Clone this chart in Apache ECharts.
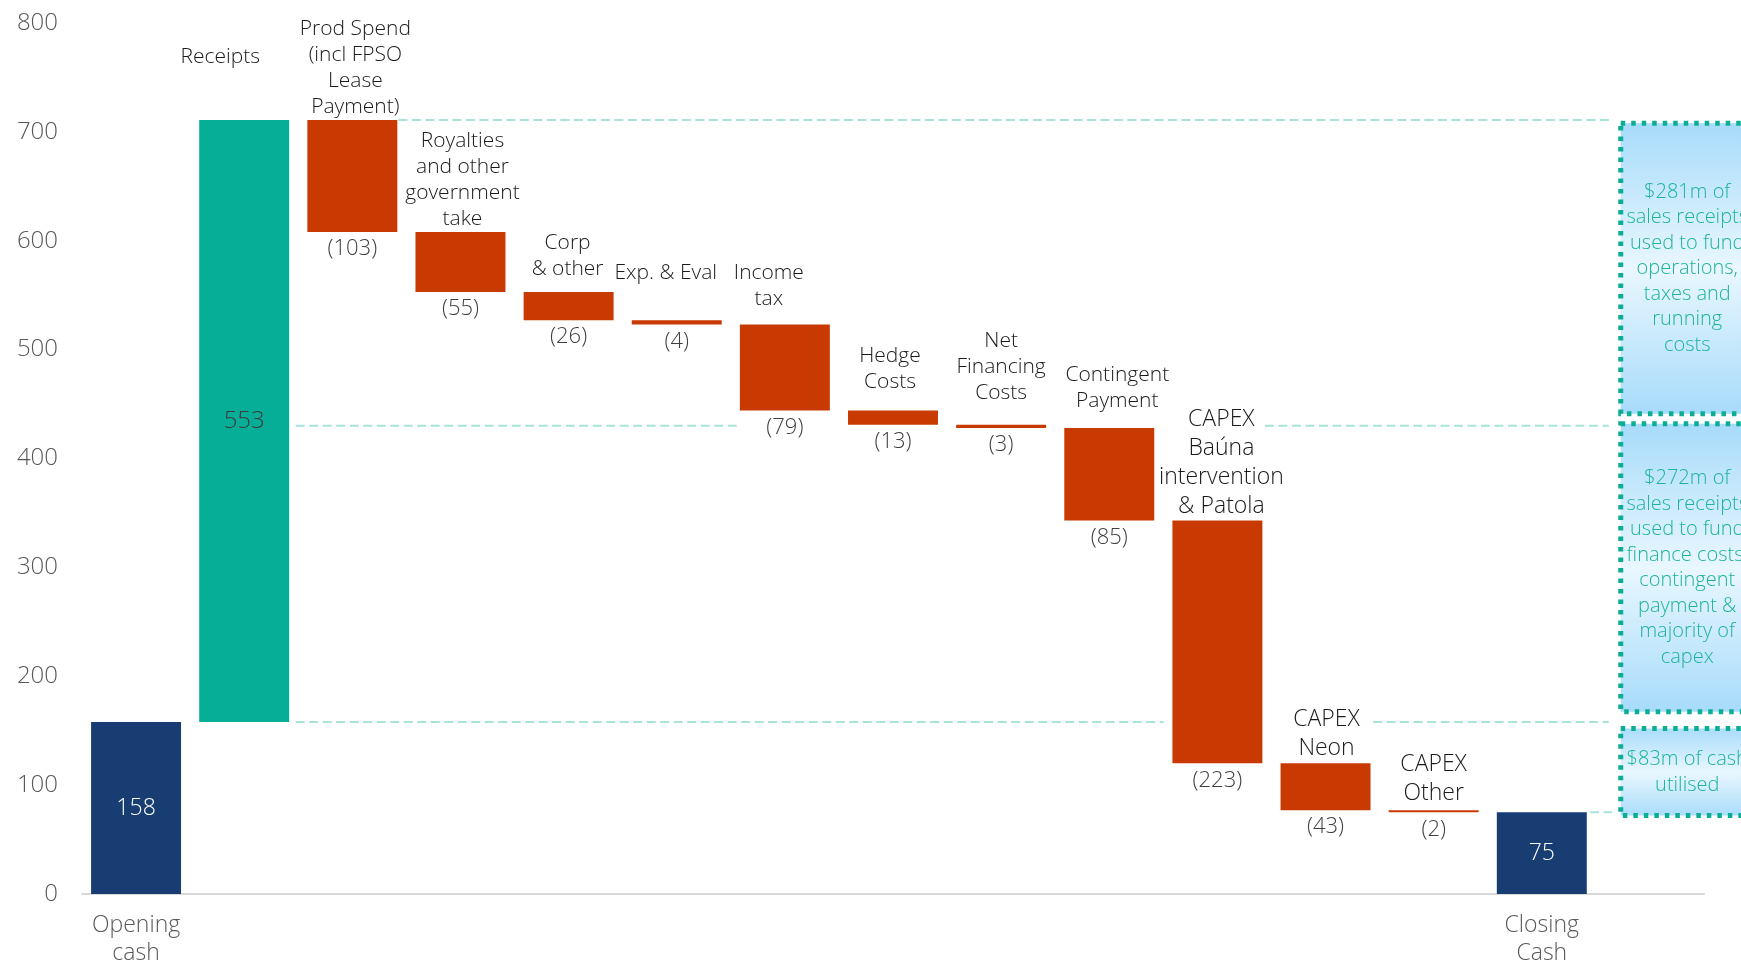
<!DOCTYPE html>
<html>
<head>
<meta charset="utf-8">
<script src="https://cdn.jsdelivr.net/npm/echarts@6/dist/echarts.min.js"></script>
<style>
  html, body { margin: 0; padding: 0; background: #fff; }
  #chart { width: 1741px; height: 967px; }
</style>
</head>
<body>
<div id="chart"></div>
<script>
// waterfall data ($m)
var categories = [
  "Opening\ncash", "Receipts", "Prod Spend\n(incl FPSO\nLease\nPayment)",
  "Royalties\nand other\ngovernment\ntake", "Corp\n& other", "Exp. & Eval",
  "Income\ntax", "Hedge\nCosts", "Net\nFinancing\nCosts", "Contingent\nPayment",
  "CAPEX\nBaúna\nintervention\n& Patola", "CAPEX\nNeon", "CAPEX\nOther", "Closing\nCash"
];
var values = [158, 553, -103, -55, -26, -4, -79, -13, -3, -85, -223, -43, -2, 75];
var totalIdx = [0, 13];

// bracket levels and the notes beside them
var levels = [711, 430, 158, 75];
var boxRanges = [[708, 441], [432, 167.5], [152, 72]];
var boxTexts = [
  "$281m of\nsales receipts\nused to fund\noperations,\ntaxes and\nrunning\ncosts",
  "$272m of\nsales receipts\nused to fund\nfinance costs,\ncontingent\npayment &\nmajority of\ncapex",
  "$83m of cash\nutilised"
];
var yTicks = [0, 100, 200, 300, 400, 500, 600, 700, 800];

// label tweaks (px)
var nameGap = [0, 50, 0, 0, 10, 34, 13, 16, 19, 14, 0, 0, 2, 0];
var nameShift = [0, -24, 3, 2, -1, -11, -16, -3, 0, 8, 4, 1, 0, 0];

var NAVY = "#173d73", TEAL = "#06ae97", RED = "#c93a02";
var FONT = "'Open Sans', sans-serif";
var WEIGHT = 350;

var base = [], size = [], running = 0;
values.forEach(function (v, i) {
  if (totalIdx.indexOf(i) >= 0) {
    base.push(0); size.push(v); running = v;
  } else if (v >= 0) {
    base.push(running); size.push(v); running += v;
  } else {
    running += v; base.push(running); size.push(-v);
  }
});

var axisCats = categories.concat([""]);

var mainData = size.map(function (s, i) {
  var isTotal = totalIdx.indexOf(i) >= 0;
  var v = values[i];
  var color = isTotal ? NAVY : (v >= 0 ? TEAL : RED);
  var label;
  if (isTotal) {
    label = { show: true, position: "inside", color: "#fff", fontSize: 23 };
  } else if (v >= 0) {
    label = { show: true, position: "inside", color: "#3a3a3a", fontSize: 24 };
  } else {
    label = { show: true, position: "bottom", distance: 4, color: "#404040", fontSize: 22, lineHeight: 26 };
  }
  return { value: s, itemStyle: { color: color }, label: label };
});

var topData = size.map(function (s, i) {
  var big = categories[i].indexOf("CAPEX") === 0;
  return {
    value: 0,
    label: {
      distance: nameGap[i],
      offset: [nameShift[i], 0],
      fontSize: big ? 23 : 21,
      lineHeight: big ? 29 : 26
    }
  };
});

// dashed guide segments: [level, xFrom, xTo] on the hidden value axis (category i spans i..i+1)
var half = 0.416;
var segments = [
  [levels[0], 2.5 + half + 0.01, 14.12],
  [levels[1], 1.5 + half + 0.06, 6.5 - half],
  [levels[1], 10.94, 14.12],
  [levels[2], 1.5 + half + 0.06, 10.5 - half - 0.08],
  [levels[2], 11.94, 14.12],
  [levels[3], 13.5 + half + 0.03, 14.15]
];
var lineSeries = segments.map(function (s) {
  return {
    type: "line",
    xAxisIndex: 1,
    data: [[s[1], s[0]], [s[2], s[0]]],
    symbol: "none",
    silent: true,
    z: 1,
    lineStyle: { color: "#a8e3da", width: 2, type: [9, 4.5] }
  };
});

var boxLeft = 14.23, boxRight = 15.46;
var boxData = boxRanges.map(function (r, i) {
  return [boxLeft, boxRight, r[0], r[1], i];
});

var chart = echarts.init(document.getElementById("chart"));
var option = {
  animation: false,
  backgroundColor: "#fff",
  textStyle: { fontFamily: FONT, fontWeight: WEIGHT },
  grid: { left: 82, right: 37, top: 23, bottom: 67, containLabel: false },
  xAxis: [
    {
      type: "category",
      data: axisCats,
      axisLine: { lineStyle: { color: "#d9d9d9", width: 2 } },
      axisTick: { show: false },
      axisLabel: {
        interval: 0,
        color: "#595959",
        fontSize: 23,
        fontWeight: WEIGHT,
        lineHeight: 28,
        margin: 17,
        formatter: function (val, idx) {
          return totalIdx.indexOf(idx) >= 0 ? val : "";
        }
      }
    },
    { type: "value", min: 0, max: 15, show: false }
  ],
  yAxis: {
    type: "value",
    min: yTicks[0],
    max: yTicks[yTicks.length - 1],
    interval: 100,
    splitLine: { show: false },
    axisLine: { show: false },
    axisTick: { show: false },
    axisLabel: { color: "#595959", fontSize: 24, fontWeight: WEIGHT, margin: 24 }
  },
  series: [
    {
      name: "base",
      type: "bar",
      stack: "wf",
      barCategoryGap: "16.8%",
      itemStyle: { color: "transparent" },
      silent: true,
      data: base
    },
    {
      name: "value",
      type: "bar",
      stack: "wf",
      barCategoryGap: "16.8%",
      z: 3,
      label: {
        fontWeight: WEIGHT,
        formatter: function (p) {
          var v = values[p.dataIndex];
          return v < 0 ? "(" + (-v) + ")" : String(v);
        }
      },
      data: mainData
    },
    {
      name: "names",
      type: "bar",
      stack: "wf",
      barCategoryGap: "16.8%",
      z: 4,
      label: {
        show: true,
        position: "top",
        color: "#1a1a1a",
        fontWeight: WEIGHT,
        formatter: function (p) {
          return totalIdx.indexOf(p.dataIndex) >= 0 ? "" : categories[p.dataIndex];
        }
      },
      data: topData
    },
    {
      type: "custom",
      xAxisIndex: 1,
      silent: true,
      z: 5,
      data: boxData,
      renderItem: function (params, api) {
        var p0 = api.coord([api.value(0), api.value(2)]);
        var p1 = api.coord([api.value(1), api.value(3)]);
        var w = p1[0] - p0[0], h = p1[1] - p0[1];
        return {
          type: "group",
          children: [
            {
              type: "rect",
              shape: { x: p0[0], y: p0[1], width: w, height: h },
              style: {
                fill: new echarts.graphic.LinearGradient(0, 0, 0, 1, [
                  { offset: 0, color: "#a6dbfa" },
                  { offset: 0.5, color: "#e9f7fe" },
                  { offset: 1, color: "#a6dbfa" }
                ]),
                stroke: "#0bae94",
                lineWidth: 5,
                lineDash: [4.5, 6]
              }
            },
            {
              type: "text",
              style: {
                text: boxTexts[api.value(4)],
                x: p0[0] + w / 2,
                y: p0[1] + h / 2,
                align: "center",
                verticalAlign: "middle",
                fill: "#1db39c",
                fontSize: 20,
                fontWeight: WEIGHT,
                fontFamily: FONT,
                lineHeight: 25.5
              }
            }
          ]
        };
      }
    }
  ].concat(lineSeries)
};
chart.setOption(option);
</script>
</body>
</html>
